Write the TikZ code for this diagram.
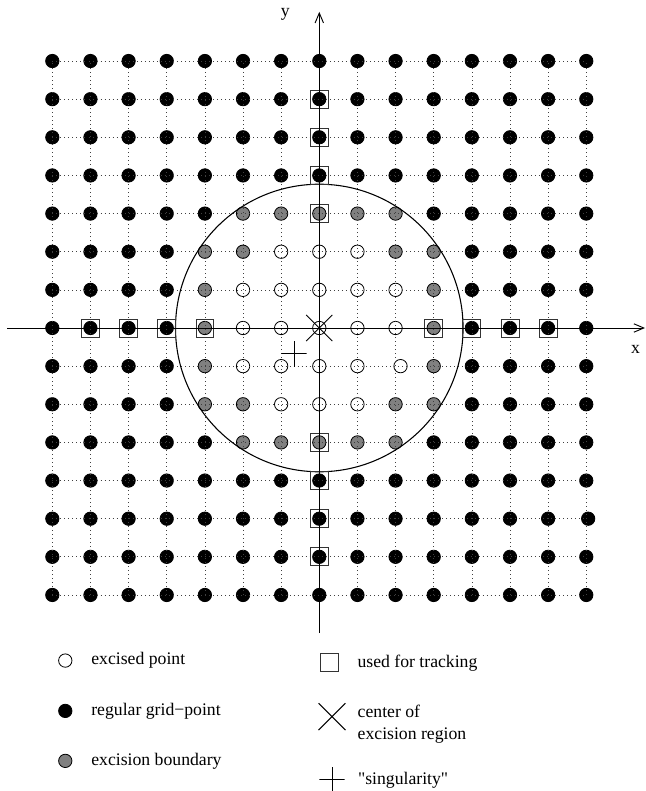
\documentclass[tikz,border=0pt]{standalone}
\usepackage{fontspec}
\setmainfont{Liberation Serif}[Ligatures=TeXOff]
\usetikzlibrary{arrows.meta, positioning, shapes.misc}

\begin{document}
\begin{tikzpicture}[
  font=\fontsize{13.2}{16.9}\selectfont, node distance=4.9mm,
  pt/.style={circle, draw, line width=0.6pt, inner sep=0pt, minimum size=3.5mm},
  reg/.style={pt, fill=black}, exc/.style={pt, fill=white}, bnd/.style={pt, fill=black!50},
  trk/.style={rectangle, draw=black!80, line width=0.6pt, inner sep=0pt, minimum size=4.7mm},
  ctrmark/.style={cross out, draw, line width=0.7pt, inner sep=0pt, minimum size=#1},
  sngmark/.style={inner sep=0pt, minimum size=#1, path picture={
      \draw[line width=0.7pt] (path picture bounding box.west) -- (path picture bounding box.east)
        (path picture bounding box.north) -- (path picture bounding box.south);}},
  lbl/.style={inner sep=0pt, align=left},
  gridln/.style={black!75, line width=0.5pt, dash pattern=on 0.5pt off 2.5pt},
  ar/.style={-{Straight Barb[length=2.6mm, width=2.2mm]}, line width=0.7pt}]
\useasboundingbox (-8.372,-12.14) rectangle (8.566,8.60);
% grid points
\foreach \i in {0,...,14}
  \foreach \j in {0,...,14}{
    \pgfmathtruncatemacro{\rr}{(\i-7)*(\i-7)+(\j-7)*(\j-7)}
    \pgfmathsetmacro{\dx}{and(\i==9,\j==6)*0.13+and(\i==14,\j==2)*0.05}
    \ifnum\rr<8 \def\fc{white}\else\ifnum\rr<14 \def\fc{black!50}\else\def\fc{black}\fi\fi
    \coordinate (g\i-\j) at (\i-7,\j-7);
    \node[pt, fill=\fc] (p\i-\j) at (\i-7+\dx,\j-7) {};
  }
\foreach \k in {0,...,14}{
  \draw[gridln] (g0-\k) -- (g14-\k);
  \draw[gridln] (g\k-0) -- (g\k-14);
}
\draw[line width=0.8pt] (g7-7) circle (3.77);
% tracking points
\foreach \k in {1,2,3,4,10,11,12,13}{
  \node[trk] (tx\k) at (g\k-7) {};
  \node[trk] (ty\k) at (g7-\k) {};
}
% axes
\coordinate (xl) at (-8.18,0); \coordinate (xr) at (8.54,0);
\coordinate (yb) at (0,-8.0); \coordinate (yt) at (0,8.29);
\draw[ar] (xl) -- (xr);
\draw[ar] (yb) -- (yt);
\node (xlab) at (8.29,-0.56) {x};
\node (ylab) at (-0.89,8.23) {y};
\node[ctrmark=6.6mm] (ctr) at (g7-7) {};
\node[sngmark=6.6mm] (sng) at (-0.664,-0.68) {};
% legend
\node[exc] (lexc) at (-6.66,-8.72) {};
\node[lbl, right=of lexc] (texc) {excised point};
\node[reg] (lreg) at (-6.66,-10.04) {};
\node[lbl, right=of lreg] (treg) {regular grid−point};
\node[bnd] (lbnd) at (-6.66,-11.35) {};
\node[lbl, right=of lbnd] (tbnd) {excision boundary};
\node[trk] (ltrk) at (0.26,-8.78) {};
\node[lbl, right=of ltrk] (ttrk) {used for tracking};
\node[ctrmark=6.8mm] (lctr) at (0.333,-10.19) {};
\node[lbl, anchor=west] (tctr) at (1.0,-10.39) {center of\\excision region};
\node[sngmark=6.6mm] (lsng) at (0.333,-11.85) {};
\node[lbl, right=3.4mm of lsng] (tsng) {"singularity"};
\end{tikzpicture}
\end{document}
